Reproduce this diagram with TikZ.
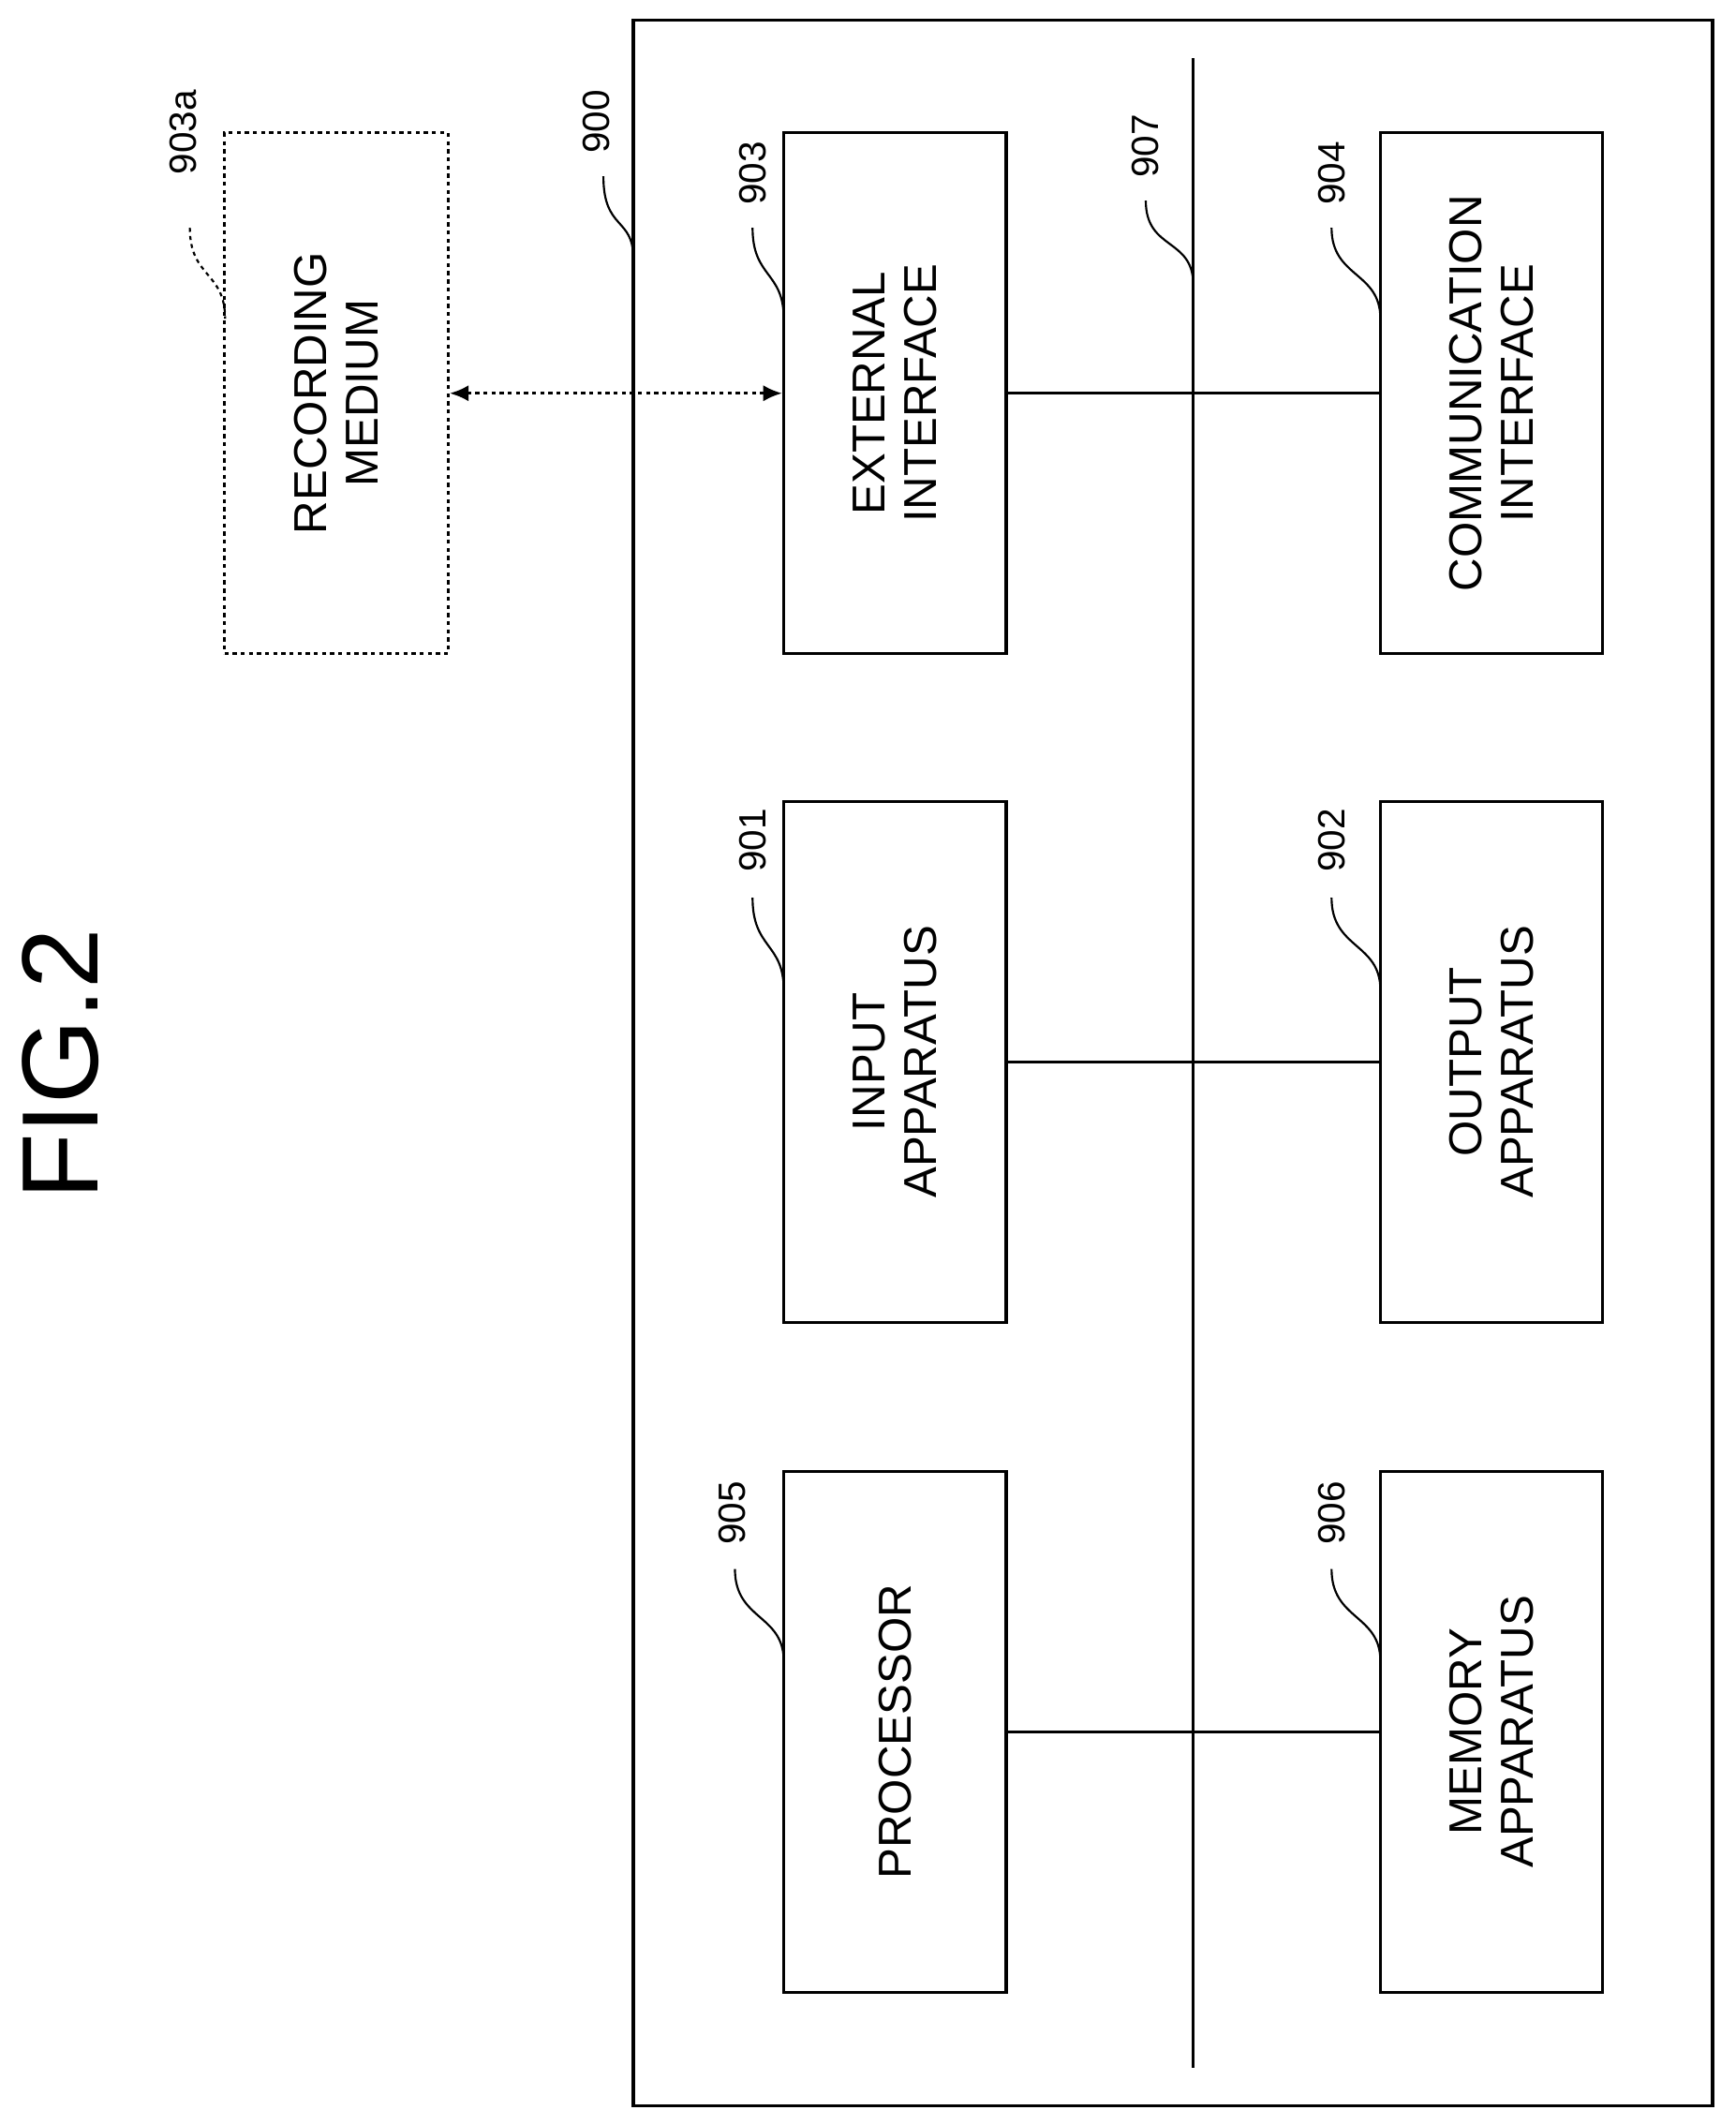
\documentclass[tikz,border=0pt]{standalone}
\usepackage{fontspec}
\setmainfont{Liberation Sans}
\usetikzlibrary{arrows.meta}
\begin{document}
\begin{tikzpicture}[x=1pt,y=-1pt,line width=2.2pt,
  box/.style={draw,minimum width=164pt,minimum height=384pt,inner sep=0pt},
  txt/.style={rotate=90,align=center,font=\fontsize{34}{38}\selectfont},
  num/.style={rotate=90,font=\fontsize{28}{30}\selectfont,anchor=east},
  lead/.style={line width=1.5pt}]
\useasboundingbox (0,0) rectangle (1280,1567);
\fill[white] (0,0) rectangle (1280,1567);
\node[rotate=90,font=\fontsize{80}{84}\selectfont] (fig) at (45,785) {FIG.2};
\node[draw,minimum width=796pt,minimum height=1538pt] (m900) at (865,784) {};
\coordinate (bt) at (880,43); \coordinate (bb) at (880,1525);
\draw (bt) -- (bb);
\node[box] (b903) at (660,290) {}; \node[txt] at (b903) {EXTERNAL\\INTERFACE};
\node[box] (b904) at (1100,290) {}; \node[txt] at (b904) {COMMUNICATION\\INTERFACE};
\node[box] (b901) at (660,783) {}; \node[txt] at (b901) {INPUT\\APPARATUS};
\node[box] (b902) at (1100,783) {}; \node[txt] at (b902) {OUTPUT\\APPARATUS};
\node[box] (b905) at (660,1277) {}; \node[txt] at (b905) {PROCESSOR};
\node[box] (b906) at (1100,1277) {}; \node[txt] at (b906) {MEMORY\\APPARATUS};
\node[box,dashed,minimum width=165pt] (b903a) at (248,290) {}; \node[txt] at (b903a) {RECORDING\\MEDIUM};
\draw (b903) -- (b904); \draw (b901) -- (b902); \draw (b905) -- (b906);
\draw[dashed,{Latex[length=14pt,width=12pt]}-{Latex[length=14pt,width=12pt]}] (b903a.east) -- (b903.west);
% labels
\node[num] (l900) at (440,62) {900};
\draw[lead] (445,130) .. controls (445,170) and (467,160) .. (467,190);
\node[num] (l903a) at (135,62) {903a};
\draw[lead,dashed] (140,168) .. controls (140,205) and (166,200) .. (166,235);
\node[num] (l903) at (555,100) {903};
\draw[lead] (555,168) .. controls (555,205) and (578,200) .. (578,235);
\node[num] (l907) at (845,80) {907};
\draw[lead] (845,148) .. controls (845,185) and (880,175) .. (880,210);
\node[num] (l904) at (982,100) {904};
\draw[lead] (982,168) .. controls (982,205) and (1018,200) .. (1018,235);
\node[num] (l901) at (555,592) {901};
\draw[lead] (555,662) .. controls (555,700) and (578,695) .. (578,730);
\node[num] (l902) at (982,592) {902};
\draw[lead] (982,662) .. controls (982,700) and (1018,695) .. (1018,730);
\node[num] (l905) at (540,1088) {905};
\draw[lead] (542,1157) .. controls (542,1195) and (578,1190) .. (578,1225);
\node[num] (l906) at (982,1088) {906};
\draw[lead] (982,1157) .. controls (982,1195) and (1018,1190) .. (1018,1225);
\end{tikzpicture}
\end{document}
